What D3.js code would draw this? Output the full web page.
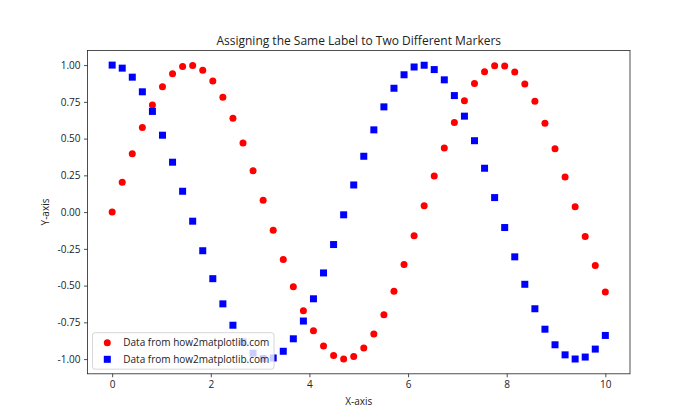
<!DOCTYPE html>
<html><head><meta charset="utf-8">
<script src="https://cdn.jsdelivr.net/npm/d3@7"></script>
<style>body{margin:0;background:#fff}svg{display:block}text{font-family:"Open Sans","Noto Sans",sans-serif;fill:#222}</style>
</head><body><svg id="c" width="700" height="420"></svg>
<script>
const title = "Assigning the Same Label to Two Different Markers";
const xLabel = "X-axis", yLabel = "Y-axis";
const legendLabels = ["Data from how2matplotlib.com", "Data from how2matplotlib.com"];
const xValues = [0,0.20408,0.40816,0.61224,0.81633,1.02041,1.22449,1.42857,1.63265,1.83673,2.04082,2.2449,2.44898,2.65306,2.85714,3.06122,3.26531,3.46939,3.67347,3.87755,4.08163,4.28571,4.4898,4.69388,4.89796,5.10204,5.30612,5.5102,5.71429,5.91837,6.12245,6.32653,6.53061,6.73469,6.93878,7.14286,7.34694,7.55102,7.7551,7.95918,8.16327,8.36735,8.57143,8.77551,8.97959,9.18367,9.38776,9.59184,9.79592,10];
const circleValues = [0,0.20267,0.39692,0.5747,0.72864,0.85232,0.94063,0.9899,0.99809,0.96485,0.89156,0.78127,0.63855,0.46933,0.28067,0.08028,-0.1234,-0.32196,-0.50716,-0.6713,-0.80762,-0.91034,-0.97533,-0.99983,-0.98283,-0.92504,-0.82886,-0.69828,-0.53871,-0.35678,-0.16005,0.04333,0.2449,0.43632,0.60963,0.75763,0.8742,0.95446,0.99512,0.99447,0.95255,0.87109,0.75349,0.60461,0.43063,0.23878,0.03701,-0.16628,-0.36268,-0.54402];
const squareValues = [1,0.97925,0.91785,0.81836,0.6849,0.52302,0.33943,0.14175,-0.06181,-0.26281,-0.4529,-0.62419,-0.76958,-0.88302,-0.95982,-0.99677,-0.99236,-0.94675,-0.86185,-0.74119,-0.58976,-0.41385,-0.22076,-0.01851,0.18451,0.37986,0.55946,0.71583,0.84249,0.93419,0.98711,0.99906,0.96955,0.89979,0.79269,0.65268,0.48559,0.29835,0.09872,-0.10501,-0.30438,-0.49112,-0.65747,-0.79653,-0.90253,-0.97107,-0.99931,-0.98608,-0.93192,-0.83907];
const xTicks = [0,2,4,6,8,10];
const yTicks = [-1,-0.75,-0.5,-0.25,0,0.25,0.5,0.75,1];

const L=87.5,R=630,T=50.4,B=373.8;
const svg=d3.select("#c");
const x=d3.scaleLinear().domain([-0.5,10.5]).range([L,R]);
const y=d3.scaleLinear().domain([-1.1,1.1]).range([B,T]);

const xa=svg.append("g").attr("transform",`translate(0,${B})`)
  .call(d3.axisBottom(x).tickValues(xTicks).tickFormat(d3.format("d")).tickSize(3.5).tickPadding(3.5));
const ya=svg.append("g").attr("transform",`translate(${L},0)`)
  .call(d3.axisLeft(y).tickValues(yTicks).tickFormat(d3.format(".2f")).tickSize(3.5).tickPadding(3.5));
[xa,ya].forEach(a=>{a.select(".domain").remove();a.selectAll("line").attr("stroke","#222").attr("stroke-width",0.8);
  a.selectAll("text").style("font-size","10px").attr("fill","#222");});
ya.selectAll("text").text(d=>d3.format(".2f")(d).replace("-","\u2212").replace("\u2212","-"));

svg.append("g").selectAll("circle").data(xValues).join("circle")
  .attr("cx",d=>x(d)).attr("cy",(d,i)=>y(circleValues[i])).attr("r",3.5).attr("fill","#ff0000");
svg.append("g").selectAll("rect").data(xValues).join("rect")
  .attr("x",d=>x(d)-3.5).attr("y",(d,i)=>y(squareValues[i])-3.5).attr("width",7).attr("height",7).attr("fill","#0000ff");

svg.append("rect").attr("x",L).attr("y",T).attr("width",R-L).attr("height",B-T)
  .attr("fill","none").attr("stroke","#222").attr("stroke-width",0.8);

svg.append("text").attr("x",(L+R)/2).attr("y",45).attr("text-anchor","middle").style("font-size","12px").text(title);
svg.append("text").attr("x",(L+R)/2).attr("y",405).attr("text-anchor","middle").style("font-size","10px").text(xLabel);
svg.append("text").attr("transform","translate(49,212) rotate(-90)").attr("text-anchor","middle").style("font-size","10px").text(yLabel);

const lg=svg.append("g");
lg.append("rect").attr("x",92.5).attr("y",332.7).attr("width",181.5).attr("height",36.5).attr("rx",2.5)
  .attr("fill","#fff").attr("fill-opacity",0.8).attr("stroke","#ccc").attr("stroke-width",0.8);
lg.append("circle").attr("cx",107.3).attr("cy",342.7).attr("r",3.5).attr("fill","#ff0000");
lg.append("rect").attr("x",103.8).attr("y",355.8).attr("width",7).attr("height",7).attr("fill","#0000ff");
legendLabels.forEach((t,i)=>lg.append("text").attr("x",123.3).attr("y",346.3+i*16.7).style("font-size","10px").text(t));
</script></body></html>
